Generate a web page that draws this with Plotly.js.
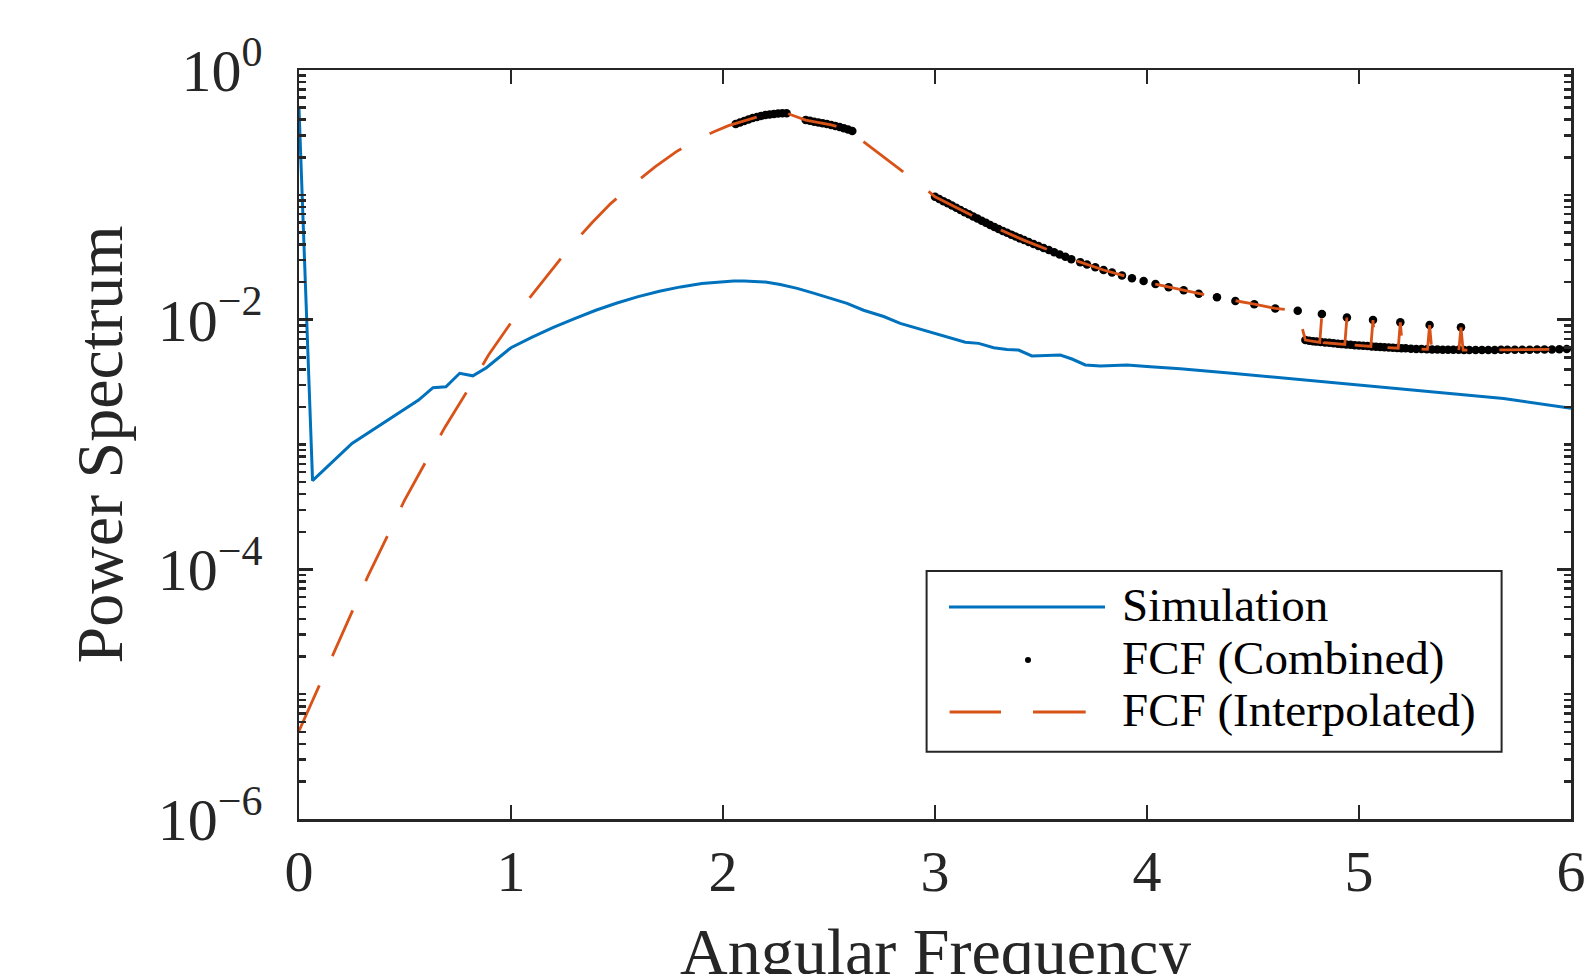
<!DOCTYPE html>
<html>
<head>
<meta charset="utf-8">
<script src="https://cdn.plot.ly/plotly-3.0.1.min.js"></script>
<style>
  html, body { margin: 0; padding: 0; background: #ffffff; }
  #chart { width: 1593px; height: 974px; }
</style>
</head>
<body>
<div id="chart"></div>
<script>
// ---------------- DATA ----------------
const simX = [0.0, 0.064, 0.25, 0.431, 0.564, 0.632, 0.693, 0.758, 0.82, 0.884, 0.95, 1.0, 1.1, 1.2, 1.3,
  1.4, 1.5, 1.6, 1.7, 1.8, 1.9, 2.0, 2.05, 2.1, 2.2, 2.27, 2.35, 2.427, 2.585, 2.663, 2.758, 2.836, 2.946,
  3.025, 3.072, 3.143, 3.206, 3.277, 3.34, 3.394, 3.457, 3.591, 3.646, 3.709, 3.78, 3.906, 4.016, 4.157,
  4.4, 4.739, 5.0, 5.368, 5.682, 6.0];
const simY = [0.493, 5.13e-4, 1.02e-3, 1.62e-3, 2.27e-3, 2.85e-3, 2.90e-3, 3.72e-3, 3.55e-3, 4.12e-3, 5.05e-3,
  5.96e-3, 7.24e-3, 8.67e-3, 1.02e-2, 1.19e-2, 1.36e-2, 1.53e-2, 1.69e-2, 1.83e-2, 1.95e-2, 2.02e-2,
  2.04e-2, 2.04e-2, 2.00e-2, 1.91e-2, 1.78e-2, 1.63e-2, 1.35e-2, 1.19e-2, 1.06e-2, 9.33e-3, 8.26e-3,
  7.53e-3, 7.23e-3, 6.59e-3, 6.46e-3, 5.96e-3, 5.78e-3, 5.71e-3, 5.12e-3, 5.21e-3, 4.84e-3, 4.34e-3,
  4.26e-3, 4.34e-3, 4.20e-3, 4.05e-3, 3.72e-3, 3.29e-3, 3.02e-3, 2.65e-3, 2.34e-3, 1.95e-3];

const fcfPeakX = [2.06, 2.08, 2.10, 2.12, 2.14, 2.16, 2.18, 2.20, 2.22, 2.24, 2.26, 2.28, 2.30];
const fcfPeakY = [0.369, 0.380, 0.391, 0.402, 0.412, 0.421, 0.429, 0.436, 0.441, 0.445, 0.448, 0.450, 0.451];

const fcfShoulderX = [2.39, 2.41, 2.43, 2.45, 2.47, 2.49, 2.51, 2.53, 2.55, 2.57, 2.59, 2.61];
const fcfShoulderY = [0.397, 0.392, 0.385, 0.380, 0.374, 0.369, 0.363, 0.356, 0.349, 0.341, 0.333, 0.325];

const fcfTailX = [3.00, 3.02, 3.04, 3.06, 3.08, 3.10, 3.12, 3.14, 3.16, 3.18, 3.20, 3.22, 3.24, 3.26, 3.28,
  3.30, 3.32, 3.34, 3.36, 3.38, 3.40, 3.42, 3.442, 3.465, 3.488, 3.512, 3.537, 3.562, 3.588, 3.615, 3.643,
  3.685, 3.717, 3.756, 3.795, 3.835, 3.882, 3.929, 3.984, 4.04, 4.102, 4.173, 4.244, 4.33, 4.417, 4.506,
  4.605, 4.711];
const fcfTailY = [0.0966, 0.0927, 0.0889, 0.0855, 0.0820, 0.0789, 0.0757, 0.0726, 0.0698, 0.0671, 0.0646,
  0.0621, 0.0597, 0.0574, 0.0552, 0.0532, 0.0514, 0.0497, 0.0480, 0.0463, 0.0448, 0.0434, 0.0419, 0.0404,
  0.0389, 0.0375, 0.0361, 0.0347, 0.0333, 0.0319, 0.0305, 0.0289, 0.0277, 0.0263, 0.0250, 0.0239, 0.0226,
  0.0215, 0.0204, 0.0193, 0.0182, 0.0172, 0.0161, 0.0151, 0.0141, 0.0133, 0.0123, 0.0118];

const fcfLowX = [4.747, 4.765, 4.783, 4.80, 4.82, 4.84, 4.86, 4.88, 4.90, 4.92, 4.94, 4.96, 4.98, 5.00,
  5.02, 5.04, 5.06, 5.08, 5.10, 5.12, 5.14, 5.16, 5.18, 5.20, 5.22, 5.245, 5.27, 5.295, 5.32, 5.345, 5.37,
  5.395, 5.42, 5.445, 5.47, 5.495, 5.52, 5.55, 5.58, 5.61, 5.64, 5.67, 5.70, 5.735, 5.77, 5.805, 5.84,
  5.875, 5.91, 5.945, 5.98];
const fcfLowY = [6.87e-3, 6.79e-3, 6.73e-3, 6.67e-3, 6.61e-3, 6.56e-3, 6.52e-3, 6.46e-3, 6.41e-3, 6.37e-3,
  6.32e-3, 6.30e-3, 6.25e-3, 6.21e-3, 6.18e-3, 6.14e-3, 6.11e-3, 6.07e-3, 6.04e-3, 6.01e-3, 5.98e-3,
  5.96e-3, 5.93e-3, 5.90e-3, 5.89e-3, 5.86e-3, 5.83e-3, 5.81e-3, 5.79e-3, 5.78e-3, 5.77e-3, 5.75e-3,
  5.74e-3, 5.73e-3, 5.73e-3, 5.71e-3, 5.71e-3, 5.71e-3, 5.71e-3, 5.71e-3, 5.71e-3, 5.73e-3, 5.73e-3,
  5.74e-3, 5.74e-3, 5.75e-3, 5.77e-3, 5.78e-3, 5.78e-3, 5.79e-3, 5.81e-3];

const fcfHighX = [4.825, 4.943, 5.066, 5.195, 5.333, 5.481];
const fcfHighY = [1.11e-2, 1.04e-2, 9.93e-3, 9.53e-3, 9.06e-3, 8.69e-3];

const interpX = [0, 0.1, 0.163, 0.258, 0.324, 0.431, 0.497, 0.611, 0.69, 0.816, 0.894, 1.036, 1.13, 1.28,
  1.382, 1.47, 1.563, 1.681, 1.78, 1.885, 1.96, 2.026, 2.10, 2.18, 2.26, 2.30, 2.39, 2.45, 2.51, 2.57, 2.61,
  2.632, 2.758, 2.85, 2.946, 3.0, 3.151, 3.292, 3.418, 3.537, 3.654, 3.795, 3.929, 4.04, 4.173, 4.33,
  4.506, 4.605, 4.711, 4.747, 4.815, 4.825, 4.835, 4.933, 4.943, 4.953, 5.056, 5.066, 5.076, 5.185,
  5.195, 5.205, 5.323, 5.333, 5.343, 5.471, 5.481, 5.491, 5.7, 6.0];
const interpY = [5.07e-6, 1.22e-5, 2.12e-5, 5.01e-5, 8.73e-5, 2.07e-4, 3.55e-4, 7.98e-4, 1.39e-3, 3.09e-3,
  5.21e-3, 1.16e-2, 1.85e-2, 3.84e-2, 5.98e-2, 8.5e-2, 0.116, 0.168, 0.222, 0.280, 0.322, 0.358, 0.391,
  0.429, 0.448, 0.451, 0.397, 0.380, 0.363, 0.341, 0.325, 0.292, 0.202, 0.152, 0.115, 0.0966, 0.0711,
  0.0540, 0.0434, 0.0361, 0.0301, 0.0250, 0.0215, 0.0193, 0.0172, 0.0151, 0.0133, 0.0123, 0.0118,
  6.87e-3, 6.58e-3, 1.11e-2, 6.54e-3, 6.33e-3, 1.04e-2, 6.29e-3, 6.10e-3, 9.93e-3, 6.06e-3, 5.91e-3,
  9.53e-3, 5.89e-3, 5.79e-3, 9.06e-3, 5.77e-3, 5.71e-3, 8.69e-3, 5.71e-3, 5.73e-3, 5.81e-3];

const xTickVals = [0, 1, 2, 3, 4, 5, 6];
const xTickText = ['0', '1', '2', '3', '4', '5', '6'];
const yTickVals = [1e-6, 1e-4, 1e-2, 1];
const yTickText = ['10<sup>−6</sup>', '10<sup>−4</sup>', '10<sup>−2</sup>', '10<sup>0</sup>'];
const seriesNames = ['Simulation', 'FCF (Combined)', 'FCF (Interpolated)'];
const xTitle = 'Angular Frequency';
const yTitle = 'Power Spectrum';

// ---------------- STYLE ----------------
const BLUE = '#0072BD', ORANGE = '#D95319', AXC = '#262626';
const FONT = 'Liberation Serif, Times New Roman, serif';
const W = 1593, H = 974;
const M = { l: 299, r: 22, t: 70, b: 155 };
const PW = W - M.l - M.r, PH = H - M.t - M.b;
const px = v => (v - M.l) / PW;
const py = v => 1 - (v - M.t) / PH;

// minor tick positions (1..9 x 10^k)
const yMinor = [];
for (let k = -6; k < 0; k++) {
  for (let m = 1; m <= 9; m++) {
    const v = m * Math.pow(10, k);
    if (!(m === 1 && (k % 2 === 0))) yMinor.push(v);
  }
}

const fcfX = [].concat(fcfPeakX, fcfShoulderX, fcfTailX, fcfLowX, fcfHighX);
const fcfY = [].concat(fcfPeakY, fcfShoulderY, fcfTailY, fcfLowY, fcfHighY);

const traces = [
  { x: simX, y: simY, name: seriesNames[0], type: 'scatter', mode: 'lines',
    line: { color: BLUE, width: 3 }, showlegend: false },
  { x: fcfX, y: fcfY, name: seriesNames[1], type: 'scatter', mode: 'markers',
    marker: { color: '#000000', size: 8.5 }, showlegend: false },
  { x: interpX, y: interpY, name: seriesNames[2], type: 'scatter', mode: 'lines',
    line: { color: ORANGE, width: 2.8, dash: '50px,32px' }, showlegend: false }
];

// custom legend (MATLAB-style long samples)
const box = { x0: 926.6, y0: 571, x1: 1501.6, y1: 751.8 };
const rows = [607, 660, 712];
const shapes = [
  { type: 'rect', xref: 'paper', yref: 'paper', x0: px(box.x0), x1: px(box.x1), y0: py(box.y1), y1: py(box.y0),
    line: { color: AXC, width: 2 }, fillcolor: '#ffffff', layer: 'above' },
  { type: 'line', xref: 'paper', yref: 'paper', x0: px(949), x1: px(1105), y0: py(rows[0]), y1: py(rows[0]),
    line: { color: BLUE, width: 3 }, layer: 'above' },
  { type: 'circle', xref: 'paper', yref: 'paper', x0: px(1025), x1: px(1031), y0: py(rows[1] + 3), y1: py(rows[1] - 3),
    line: { color: '#000000', width: 0 }, fillcolor: '#000000', layer: 'above' },
  { type: 'line', xref: 'paper', yref: 'paper', x0: px(949.6), x1: px(1001), y0: py(rows[2]), y1: py(rows[2]),
    line: { color: ORANGE, width: 2.8 }, layer: 'above' },
  { type: 'line', xref: 'paper', yref: 'paper', x0: px(1033), x1: px(1085.7), y0: py(rows[2]), y1: py(rows[2]),
    line: { color: ORANGE, width: 2.8 }, layer: 'above' }
];
const annotations = seriesNames.map((n, i) => ({
  text: n, xref: 'paper', yref: 'paper', x: px(1120), y: py(rows[i] - 2), xanchor: 'left', yanchor: 'middle',
  showarrow: false, font: { family: FONT, size: 47, color: '#000000' }
}));
// x-axis title placed as annotation (axis title cannot sit lower inside the margin)
annotations.push({
  text: xTitle, xref: 'paper', yref: 'paper', x: 0.5, y: py(913), xanchor: 'center', yanchor: 'top',
  showarrow: false, font: { family: FONT, size: 66, color: AXC }
});

const layout = {
  width: W, height: H,
  margin: M,
  paper_bgcolor: '#ffffff', plot_bgcolor: '#ffffff',
  showlegend: false,
  font: { family: FONT, color: AXC },
  xaxis: {
    range: [0, 6], tickmode: 'array', tickvals: xTickVals, ticktext: xTickText,
    ticks: 'inside', ticklen: 14, tickwidth: 2.5, tickcolor: AXC,
    showline: true, linecolor: AXC, linewidth: 2.5, mirror: 'allticks',
    showgrid: false, zeroline: false,
    tickfont: { family: FONT, size: 58, color: AXC }, ticklabelstandoff: 0
  },
  yaxis: {
    type: 'log', range: [-6, 0], tickmode: 'array', tickvals: yTickVals, ticktext: yTickText,
    ticks: 'inside', ticklen: 14, tickwidth: 2.5, tickcolor: AXC,
    showline: true, linecolor: AXC, linewidth: 2.5, mirror: 'allticks',
    showgrid: false, zeroline: false,
    minor: { tickmode: 'array', tickvals: yMinor, ticks: 'inside', ticklen: 7, tickwidth: 2.5, tickcolor: AXC, showgrid: false },
    tickfont: { family: FONT, size: 60, color: AXC }, ticklabelstandoff: 22,
    title: { text: yTitle, font: { family: FONT, size: 66, color: AXC }, standoff: 14 }
  },
  shapes: shapes,
  annotations: annotations
};

Plotly.newPlot('chart', traces, layout, { staticPlot: true, displayModeBar: false });
</script>
</body>
</html>
